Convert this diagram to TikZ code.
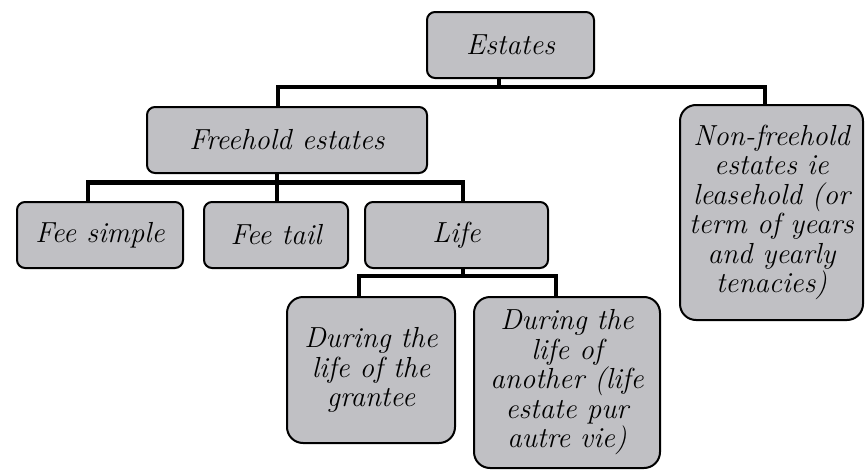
\documentclass[tikz,border=0pt]{standalone}
\definecolor{boxfill}{RGB}{192,192,196}
\begin{document}
\begin{tikzpicture}[x=1pt,y=-1pt,
  box/.style={draw=black, line width=2pt, rounded corners=8pt, fill=boxfill,
    font=\fontsize{29}{29.5}\selectfont\itshape, align=center, inner sep=0pt,
    text=black},
  conn/.style={draw=black, line width=4.5pt, line join=miter}]
\useasboundingbox (0,0) rectangle (865,471);
\node[box, minimum width=167pt, minimum height=66pt] (est) at (510.5,45) {Estates};
\node[box, minimum width=280pt, minimum height=66pt] (fh) at (287,140) {Freehold estates};
\node[box, rounded corners=16pt, minimum width=183pt, minimum height=215pt] (nf) at (771.5,212.5)
  {Non-freehold\\estates ie\\leasehold (or\\term of years\\and yearly\\tenacies)};
\node[box, minimum width=166pt, minimum height=66pt] (fs) at (100,235) {Fee simple};
\node[box, minimum width=144pt, minimum height=66pt] (ft) at (276,235) {Fee tail};
\node[box, minimum width=183pt, minimum height=66pt] (life) at (456.5,235) {Life};
\node[box, rounded corners=16pt, minimum width=168pt, minimum height=146pt] (dg) at (371,370)
  {During the\\life of the\\grantee};
\node[box, rounded corners=16pt, minimum width=186pt, minimum height=171pt] (da) at (567,382.5)
  {During the\\life of\\another (life\\estate pur\\autre vie)};
% top bus
\coordinate (t0) at (499,87);
\coordinate (t1) at (278,87);
\coordinate (t2) at (765,87);
\draw[conn] (est.south -| t0) -- (t0);
\draw[conn] (fh.north -| t1) -- (t1) -- (t2) -- (nf.north -| t2);
% middle bus
\coordinate (m1) at (88,182.5);
\coordinate (m2) at (277,182.5);
\coordinate (m3) at (463,182.5);
\draw[conn] (fh.south -| m2) -- (m2);
\draw[conn] (fs.north -| m1) -- (m1) -- (m3) -- (life.north -| m3);
\draw[conn] (ft.north -| m2) -- (m2);
% lower bus
\coordinate (l1) at (359,276);
\coordinate (l2) at (463,276);
\coordinate (l3) at (556,276);
\draw[conn] (life.south -| l2) -- (l2);
\draw[conn] (dg.north -| l1) -- (l1) -- (l3) -- (da.north -| l3);
\end{tikzpicture}
\end{document}
